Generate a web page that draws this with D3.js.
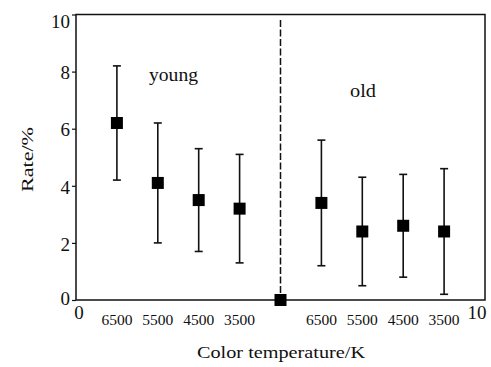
<!DOCTYPE html>
<html>
<head>
<meta charset="utf-8">
<script src="https://cdn.jsdelivr.net/npm/d3@7/dist/d3.min.js"></script>
<style>
  html, body { margin: 0; padding: 0; background: #fff; }
  svg { display: block; }
  text { font-family: "Liberation Serif", "Times New Roman", serif; fill: #111; }
</style>
</head>
<body>
<svg id="chart" width="491" height="367"></svg>
<script>
// ---- data ----
const xPositions = [1, 2, 3, 4, 6, 7, 8, 9];
const categories = ["6500", "5500", "4500", "3500", "6500", "5500", "4500", "3500"];
const means = [6.2, 4.1, 3.5, 3.2, 3.4, 2.4, 2.6, 2.4];
const upper = [8.2, 6.2, 5.3, 5.1, 5.6, 4.3, 4.4, 4.6];
const lower = [4.2, 2.0, 1.7, 1.3, 1.2, 0.5, 0.8, 0.2];
const dividerX = [5];
const dividerValue = [0];
const yTicks = [0, 2, 4, 6, 8, 10];
const xEndTicks = [0, 10];
const groupNames = ["young", "old"];
const xTitle = "Color temperature/K";
const yTitle = "Rate/%";

// ---- layout ----
const svg = d3.select("#chart");
const L = 76, R = 485, T = 14.5, B = 300;
const x = d3.scaleLinear().domain([0, 10]).range([L, R]);
const y = d3.scaleLinear().domain([0, 10]).range([B, T]);
const ink = "#111";

// frame
svg.append("rect")
  .attr("x", L).attr("y", T).attr("width", R - L).attr("height", B - T)
  .attr("fill", "none").attr("stroke", ink).attr("stroke-width", 1.5);

// y axis
const yAxis = svg.append("g").attr("transform", `translate(${L},0)`)
  .call(d3.axisLeft(y).tickValues(yTicks).tickSize(4).tickPadding(2).tickFormat(d3.format("d")));
yAxis.attr("font-family", null);
yAxis.select(".domain").remove();
yAxis.selectAll(".tick line").attr("stroke", ink).attr("stroke-width", 1.2);
yAxis.selectAll(".tick text")
  .style("font-family", '"Liberation Serif", serif')
  .attr("font-size", 19).attr("fill", ink)
  .attr("dy", d => d === 10 ? "0.66em" : (d === 0 ? "0.22em" : "0.38em"));

// x end tick labels (0 and 10)
svg.append("g").selectAll("text").data(xEndTicks).join("text")
  .attr("x", d => d === 0 ? x(d) + 3 : x(d) - 8)
  .attr("y", 319)
  .attr("text-anchor", "middle")
  .attr("font-size", 19)
  .text(d => d);

// category labels
svg.append("g").selectAll("text").data(categories).join("text")
  .attr("x", (d, i) => x(xPositions[i]))
  .attr("y", 325)
  .attr("text-anchor", "middle")
  .attr("font-size", 14.5)
  .attr("textLength", 31)
  .attr("lengthAdjust", "spacingAndGlyphs")
  .text(d => d);

// divider dashed line
svg.append("g").selectAll("line").data(dividerX).join("line")
  .attr("x1", d => x(d)).attr("x2", d => x(d))
  .attr("y1", 20).attr("y2", B)
  .attr("stroke", ink).attr("stroke-width", 1.5)
  .attr("stroke-dasharray", "7,2.5");

// error bars
const bars = svg.append("g");
const capW = 8;
bars.selectAll("line.v").data(means).join("line").attr("class", "v")
  .attr("x1", (d, i) => x(xPositions[i])).attr("x2", (d, i) => x(xPositions[i]))
  .attr("y1", (d, i) => y(upper[i])).attr("y2", (d, i) => y(lower[i]))
  .attr("stroke", ink).attr("stroke-width", 1.6);
bars.selectAll("line.cu").data(means).join("line").attr("class", "cu")
  .attr("x1", (d, i) => x(xPositions[i]) - capW / 2).attr("x2", (d, i) => x(xPositions[i]) + capW / 2)
  .attr("y1", (d, i) => y(upper[i])).attr("y2", (d, i) => y(upper[i]))
  .attr("stroke", ink).attr("stroke-width", 1.6);
bars.selectAll("line.cl").data(means).join("line").attr("class", "cl")
  .attr("x1", (d, i) => x(xPositions[i]) - capW / 2).attr("x2", (d, i) => x(xPositions[i]) + capW / 2)
  .attr("y1", (d, i) => y(lower[i])).attr("y2", (d, i) => y(lower[i]))
  .attr("stroke", ink).attr("stroke-width", 1.6);

// markers
const ms = 12;
svg.append("g").selectAll("rect").data(means).join("rect")
  .attr("x", (d, i) => x(xPositions[i]) - ms / 2)
  .attr("y", d => y(d) - ms / 2)
  .attr("width", ms).attr("height", ms)
  .attr("fill", "#000");
svg.append("g").selectAll("rect").data(dividerValue).join("rect")
  .attr("x", (d, i) => x(dividerX[i]) - ms / 2)
  .attr("y", d => y(d) - ms / 2)
  .attr("width", ms).attr("height", ms)
  .attr("fill", "#000");

// group labels
svg.append("text").attr("x", 149).attr("y", 81).attr("font-size", 19)
  .attr("textLength", 49).attr("lengthAdjust", "spacingAndGlyphs").text(groupNames[0]);
svg.append("text").attr("x", 350).attr("y", 97).attr("font-size", 19)
  .attr("textLength", 26).attr("lengthAdjust", "spacingAndGlyphs").text(groupNames[1]);

// axis titles
svg.append("text").attr("x", 197).attr("y", 358).attr("font-size", 17)
  .attr("textLength", 168).attr("lengthAdjust", "spacingAndGlyphs").text(xTitle);
svg.append("text")
  .attr("transform", "translate(33,192) rotate(-90)")
  .attr("font-size", 17)
  .attr("textLength", 65).attr("lengthAdjust", "spacingAndGlyphs")
  .text(yTitle);
</script>
</body>
</html>
